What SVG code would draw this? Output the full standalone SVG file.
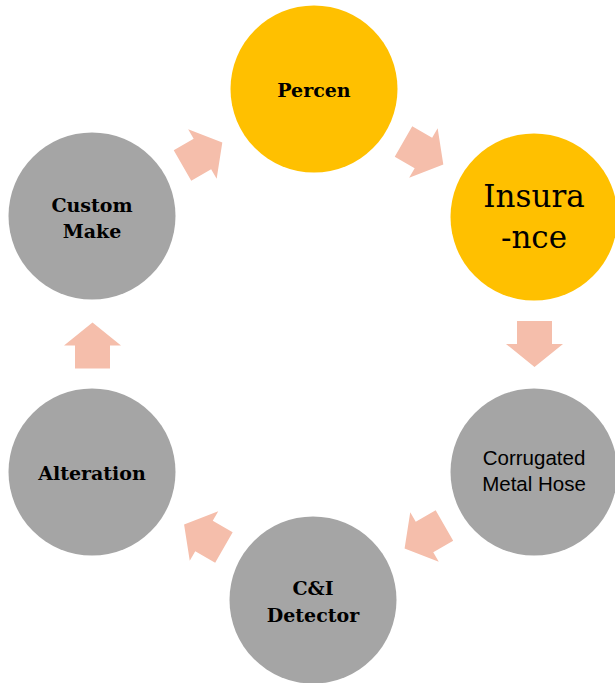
<svg xmlns="http://www.w3.org/2000/svg" width="615" height="683" viewBox="0 0 615 683">
<style>
.y{fill:#FFC000}
.g{fill:#A5A5A5}
.t{font-family:"DejaVu Serif","Liberation Serif",serif;font-weight:bold;font-size:19px;fill:#000;text-anchor:middle}
.big{font-family:"DejaVu Serif","Liberation Serif",serif;font-size:31px;fill:#000;text-anchor:middle}
.s{font-family:"Liberation Sans",Arial,sans-serif;font-size:20.5px;fill:#000;text-anchor:middle}
.a{fill:#F5BEAB}
</style>
<defs>
<polygon id="arr" points="-23,-17.5 0,-17.5 0,-28.5 23,0 0,28.5 0,17.5 -23,17.5"/>
</defs>
<rect width="615" height="683" fill="#fff"/>
<g id="connectors" class="a">
<use href="#arr" transform="translate(202.4,154) rotate(-30)"/>
<use href="#arr" transform="translate(423.4,153) rotate(30)"/>
<use href="#arr" transform="translate(534.5,344) rotate(90)"/>
<use href="#arr" transform="translate(424.5,537) rotate(150)"/>
<use href="#arr" transform="translate(204,536) rotate(210)"/>
<use href="#arr" transform="translate(92.5,345.5) rotate(-90)"/>
</g>
<g id="percen">
<circle class="y" cx="314" cy="89" r="83.5"/>
<text class="t" x="314" y="97">Percen</text>
</g>
<g id="insurance">
<circle class="y" cx="534" cy="217" r="83.5"/>
<text class="big" x="534" y="207">Insura</text>
<text class="big" x="534" y="248">-nce</text>
</g>
<g id="corrugated">
<circle class="g" cx="534" cy="472" r="83.5"/>
<text class="s" x="534" y="465">Corrugated</text>
<text class="s" x="534" y="491">Metal Hose</text>
</g>
<g id="detector">
<circle class="g" cx="313" cy="600" r="83.5"/>
<text class="t" x="313" y="595">C&amp;I</text>
<text class="t" x="313" y="622">Detector</text>
</g>
<g id="alteration">
<circle class="g" cx="92" cy="472" r="83.5"/>
<text class="t" x="92" y="480">Alteration</text>
</g>
<g id="custom">
<circle class="g" cx="92" cy="216" r="83.5"/>
<text class="t" x="92" y="212">Custom</text>
<text class="t" x="92" y="238">Make</text>
</g>
</svg>
